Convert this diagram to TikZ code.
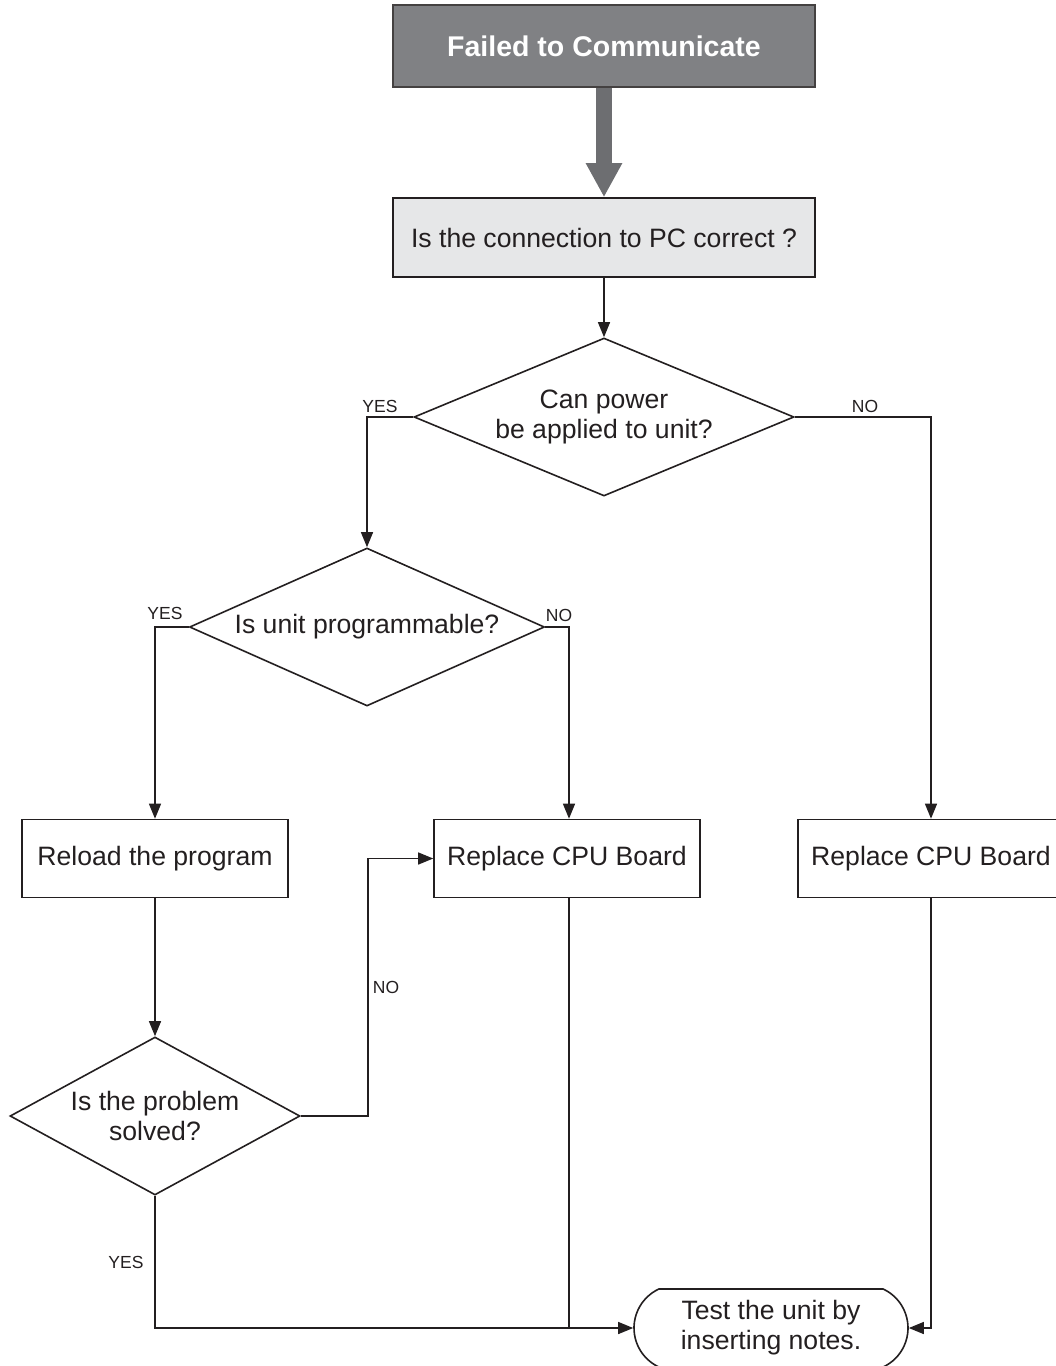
\documentclass[tikz,border=0pt]{standalone}
\usepackage{fontspec}
\setmainfont{Liberation Sans}
\usetikzlibrary{shapes.geometric,shapes.misc,arrows.meta}
\definecolor{ink}{HTML}{231F20}
\definecolor{topfill}{HTML}{808184}
\definecolor{bigarrow}{HTML}{6D6E71}
\definecolor{lightfill}{HTML}{E6E7E8}
\begin{document}
\begin{tikzpicture}[x=1pt,y=-1pt,
  txt/.style={font=\fontsize{26.6}{30}\selectfont, text=ink},
  box/.style={txt, draw=ink, line width=1.6pt, minimum width=266pt, minimum height=78pt, inner sep=0pt},
  decision/.style={txt, draw=ink, line width=1.6pt, diamond, inner sep=0pt, align=center},
  conn/.style={draw=ink, line width=1.3pt, -{Triangle[length=15pt,width=12pt]}},
  plain/.style={draw=ink, line width=1.3pt},
  lab/.style={font=\fontsize{17.5}{20}\selectfont, text=ink, inner sep=0pt}
]
\useasboundingbox (0,0) rectangle (1056,1366);

\node[box, fill=topfill, draw=ink!85, line width=2pt, minimum width=422pt, minimum height=82pt,
      font=\fontsize{28.5}{30}\selectfont\bfseries, text=white] (F) at (604,46) {Failed to Communicate};
\node[box, fill=lightfill, minimum width=422pt, minimum height=79pt] (Q) at (604,237.5) {Is the connection to PC correct ?};

\node[decision, minimum width=380pt, minimum height=158pt, aspect=2.4] (D1) at (604,417)
  {Can power\\be applied to unit?};
\node[decision, minimum width=355pt, minimum height=158pt, aspect=2.25] (D2) at (367,627)
  {Is unit programmable?};
\node[decision, minimum width=290pt, minimum height=158pt, aspect=1.84] (D3) at (155,1116)
  {Is the problem\\solved?};

\node[box] (R1) at (155,858.5) {Reload the program};
\node[box] (R2) at (567,858.5) {Replace CPU Board};
\node[box] (R3) at (931,858.5) {Replace CPU Board};

\node[txt, draw=ink, line width=1.6pt, rounded rectangle, rounded rectangle arc length=130,
      minimum width=274pt, minimum height=78pt, inner sep=0pt, align=center] (T) at (771,1328)
  {Test the unit by\\inserting notes.};

% thick arrow
\draw[bigarrow, line width=16pt, -{Triangle[length=34pt,width=34pt]}] (F.south) -- (Q.north);

\draw[conn] (Q.south) -- (D1.north);
\draw[conn] (D1.west) -| (D2.north);
\draw[conn] (D1.east) -| (R3.north);
\draw[conn] (D2.west) -| (R1.north);
\draw[conn] (D2.east) -| ([xshift=2pt]R2.north);
\draw[conn] (R1.south) -- (D3.north);
\coordinate (k3) at (368,1116);
\draw[conn] (D3.east) -- (k3) |- (R2.west);
\draw[conn] (D3.south) |- (T.west);
\draw[plain] ([xshift=2pt]R2.south) -- ([xshift=2pt]R2.south |- T.west);
\draw[conn] (R3.south) |- (T.east);

% labels
\node[lab] (y1) at (380,406) {YES};
\node[lab] (n1) at (865,406) {NO};
\node[lab] (y2) at (165,613) {YES};
\node[lab] (n2) at (559,615) {NO};
\node[lab] (n3) at (386,987) {NO};
\node[lab] (y3) at (126,1262) {YES};
\end{tikzpicture}
\end{document}
